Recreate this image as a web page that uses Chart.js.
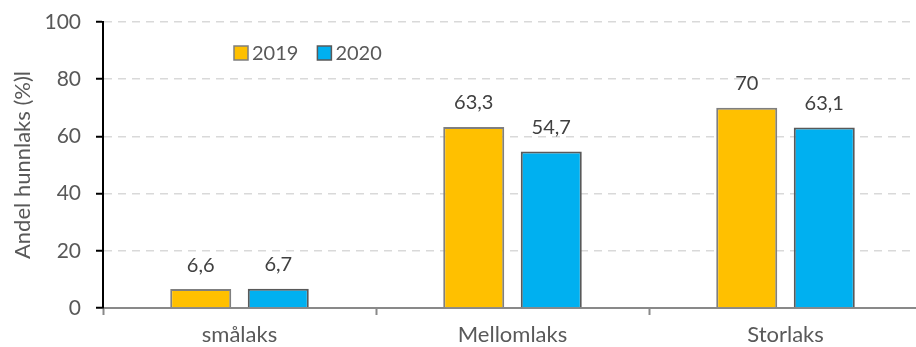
<!DOCTYPE html>
<html>
<head>
<meta charset="utf-8">
<script src="https://cdn.jsdelivr.net/npm/chart.js@4/dist/chart.umd.min.js"></script>
<style>
  html, body { margin: 0; padding: 0; background: #fff; overflow: hidden; }
  #wrap { width: 930px; height: 347px; position: relative; }
</style>
</head>
<body>
<div id="wrap"><canvas id="c"></canvas></div>
<script>
const categories = ['smålaks', 'Mellomlaks', 'Storlaks'];
const years = ['2019', '2020'];
const values2019 = [6.6, 63.3, 70];
const values2020 = [6.7, 54.7, 63.1];
const yTicks = [0, 20, 40, 60, 80, 100];

const FONT = 'Lato, "Open Sans", sans-serif';
const fmt = v => String(v).replace('.', ',');

// Value labels above each bar
const valueLabels = {
  id: 'valueLabels',
  afterDatasetsDraw(chart) {
    const ctx = chart.ctx;
    ctx.save();
    ctx.font = '20px ' + FONT;
    ctx.fillStyle = '#404040';
    ctx.textAlign = 'center';
    ctx.textBaseline = 'middle';
    chart.data.datasets.forEach((ds, i) => {
      chart.getDatasetMeta(i).data.forEach((bar, j) => {
        ctx.fillText(fmt(ds.data[j]), bar.x, bar.y - 24);
      });
    });
    ctx.restore();
  }
};

// Legend drawn inside the plot area, upper left
const insideLegend = {
  id: 'insideLegend',
  afterDraw(chart) {
    const ctx = chart.ctx;
    ctx.save();
    ctx.font = '20px ' + FONT;
    ctx.textBaseline = 'middle';
    let x = 234;
    const y = 53;
    chart.data.datasets.forEach(ds => {
      ctx.fillStyle = ds.backgroundColor;
      ctx.fillRect(x, y - 7, 14, 14);
      ctx.strokeStyle = ds.borderColor;
      ctx.lineWidth = 1.5;
      ctx.strokeRect(x, y - 7, 14, 14);
      ctx.fillStyle = '#595959';
      ctx.textAlign = 'left';
      ctx.fillText(ds.label, x + 18, y + 1);
      x += 18 + ctx.measureText(ds.label).width + 19;
    });
    ctx.restore();
  }
};

new Chart(document.getElementById('c'), {
  type: 'bar',
  data: {
    labels: categories,
    datasets: [
      { label: years[0], data: values2019, backgroundColor: '#FFC000', borderColor: '#7F7F7F', borderWidth: 2 },
      { label: years[1], data: values2020, backgroundColor: '#00B0F0', borderColor: '#595959', borderWidth: 2 }
    ]
  },
  options: {
    responsive: true,
    maintainAspectRatio: false,
    animation: false,
    categoryPercentage: 0.568,
    barPercentage: 0.787,
    layout: { padding: { top: 22, right: 8, left: 10, bottom: 0 } },
    plugins: { legend: { display: false }, tooltip: { enabled: false } },
    scales: {
      x: {
        grid: { display: true, drawOnChartArea: false, drawTicks: true, tickLength: 7, tickColor: '#898989', tickWidth: 2, offset: true },
        border: { display: true, color: '#898989', width: 2 },
        ticks: { color: '#595959', font: { family: FONT, size: 22 }, padding: 7 },
        afterFit(scale) { scale.height = 39; scale.paddingLeft = 0; scale.paddingRight = 0; }
      },
      y: {
        min: 0,
        max: 100,
        afterBuildTicks(scale) { scale.ticks = yTicks.map(v => ({ value: v })); },
        grid: { color: '#D9D9D9', lineWidth: 1.5, tickLength: 7, tickColor: '#000', tickWidth: 2, tickBorderDash: [] },
        border: { display: true, color: '#000', width: 2, dash: [8, 6] },
        ticks: { color: '#595959', font: { family: FONT, size: 21 }, padding: 15 },
        title: { display: true, text: 'Andel hunnlaks (%)l', color: '#595959', font: { family: FONT, size: 22 }, padding: 0 },
        afterFit(scale) { scale.width = 93; scale.paddingTop = 0; scale.paddingBottom = 0; }
      }
    }
  },
  plugins: [valueLabels, insideLegend]
});
</script>
</body>
</html>
